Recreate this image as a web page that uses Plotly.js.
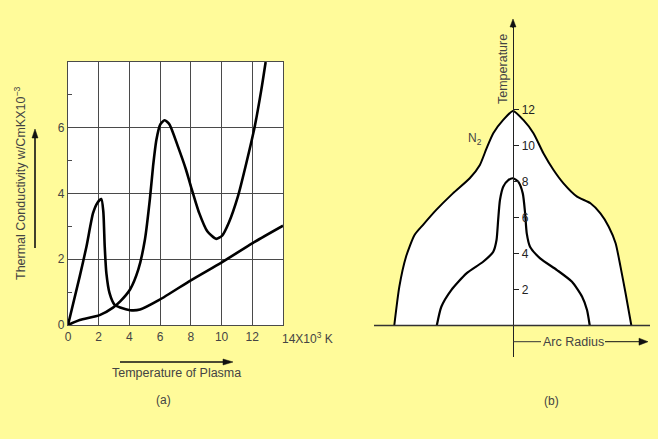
<!DOCTYPE html>
<html><head><meta charset="utf-8">
<script src="https://cdn.plot.ly/plotly-3.0.1.min.js"></script>
<style>body{margin:0;background:#FFFB9A}</style>
</head><body><div id="c" style="width:658px;height:439px"></div>
<script>
// (a) thermal conductivity vs temperature of plasma (x 10^3 K)
const peakX = [0,0.76,1.2,1.63,1.92,2.17,2.3,2.39,2.5,2.71,3.04,3.4,4.04,4.69,5.97,8.0,9.99,12.05,14.0];
const peakY = [0,1.47,2.38,3.4,3.72,3.83,3.45,2.4,1.57,0.96,0.61,0.53,0.45,0.47,0.77,1.36,1.9,2.5,3.02];
const waveX = [0,0.76,2.06,2.93,3.4,4.04,4.58,5.01,5.33,5.54,5.76,6.01,6.29,6.61,7.15,7.68,8.0,8.54,9.07,9.65,10.04,10.47,11.07,11.61,12.16,12.59,12.87];
const waveY = [0,0.15,0.3,0.53,0.72,1.08,1.69,2.6,3.82,4.83,5.64,6.1,6.23,6.1,5.44,4.73,4.22,3.41,2.85,2.62,2.72,3.11,3.92,4.92,6.04,7.16,8.0];
const xTicks = [0,2,4,6,8,10,12];
const yTicks = [0,2,4,6];
// (b) temperature profiles across arc radius
const n2X = [-6.56,-6.28,-5.91,-5.44,-4.98,-4.24,-3.32,-2.39,-1.83,-1.46,-1.09,-0.54,0,0.57,1.13,1.68,2.24,2.79,3.54,4.28,4.83,5.29,5.67,5.94,6.22,6.54];
const n2Y = [0,2.16,3.82,5.03,5.58,6.42,7.34,8.18,8.92,9.84,10.68,11.42,11.92,11.42,10.68,9.57,8.64,7.9,7.16,6.79,6.23,5.49,4.57,3.27,1.79,0];
const innerX = [-4.21,-3.96,-3.41,-2.57,-1.65,-1.09,-0.91,-0.82,-0.72,-0.54,-0.26,0,0.29,0.54,0.67,0.76,0.94,1.5,2.43,3.26,3.82,4.09,4.24];
const innerY = [0,1.04,1.97,2.9,3.54,4.1,4.75,5.86,6.97,7.71,8.08,8.18,7.99,7.34,6.23,5.12,4.38,3.73,3.08,2.43,1.6,0.86,0];
const tempTicks = [2,4,6,8,10,12];

const W=658,H=439;
const px=v=>v/W, py=v=>1-v/H;
const txt='#444', grid='#4a4a4a', F='Liberation Sans, Arial, sans-serif';

const traces=[
 {x:peakX,y:peakY,type:'scatter',mode:'lines',line:{color:'#000',width:2.6,shape:'spline',smoothing:0.6},xaxis:'x',yaxis:'y',hoverinfo:'skip'},
 {x:waveX,y:waveY,type:'scatter',mode:'lines',line:{color:'#000',width:2.6,shape:'spline',smoothing:0.6},xaxis:'x',yaxis:'y',hoverinfo:'skip'},
 {x:n2X,y:n2Y,type:'scatter',mode:'lines',fill:'toself',fillcolor:'#fff',line:{color:'#000',width:2,shape:'spline',smoothing:0.6},xaxis:'x2',yaxis:'y2',hoverinfo:'skip'},
 {x:innerX,y:innerY,type:'scatter',mode:'lines',line:{color:'#000',width:2.2,shape:'spline',smoothing:0.6},xaxis:'x2',yaxis:'y2',hoverinfo:'skip'}
];

function label(text,x,y,opts){
  return Object.assign({text:text,x:px(x),y:py(y),xref:'paper',yref:'paper',xanchor:'center',yanchor:'middle',showarrow:false,font:{size:12,color:txt}},opts||{});
}
// arrow from (x0,y0) to tip (x1,y1), pixel coordinates -> paper shapes
function arrowShapes(x0,y0,x1,y1,hl,hw,lw){
  const dx=x1-x0, dy=y1-y0, L=Math.hypot(dx,dy), ux=dx/L, uy=dy/L;
  const bx=x1-ux*hl, by=y1-uy*hl, nx=-uy, ny=ux;
  const p=(a,b)=>px(a).toFixed(5)+','+py(b).toFixed(5);
  return [
    {type:'line',xref:'paper',yref:'paper',x0:px(x0),y0:py(y0),x1:px(bx),y1:py(by),line:{color:'#111',width:lw}},
    {type:'path',xref:'paper',yref:'paper',path:'M'+p(x1,y1)+' L'+p(bx+nx*hw/2,by+ny*hw/2)+' L'+p(bx-nx*hw/2,by-ny*hw/2)+' Z',fillcolor:'#111',line:{color:'#111',width:0.5}}
  ];
}

const shapes=[
  {type:'rect',xref:'x',yref:'y',x0:0,x1:14,y0:0,y1:8,fillcolor:'#fff',line:{width:0},layer:'below'},
  {type:'line',xref:'x2',yref:'y2',x0:-7.68,x1:7.57,y0:0,y1:0,line:{color:'#333',width:1.3}},
  {type:'line',xref:'paper',yref:'paper',x0:px(513),x1:px(541),y0:py(341.7),y1:py(341.7),line:{color:'#333',width:1}}
].concat(
  arrowShapes(35,248,35,129,9,6,1.6),
  arrowShapes(120,362,233,362,10,6,1.6),
  arrowShapes(513,28,513,19,8,6,1.2),
  arrowShapes(605,341.7,648,341.7,9,7,1)
);

const layout={
 width:W,height:H,margin:{l:0,r:0,t:0,b:0},
 paper_bgcolor:'#FFFB9A',plot_bgcolor:'rgba(0,0,0,0)',showlegend:false,
 font:{family:F,color:txt,size:12},
 xaxis:{domain:[px(68),px(283)],range:[0,14],anchor:'y',tickvals:xTicks,showgrid:true,gridcolor:grid,gridwidth:1.2,
   showline:true,mirror:true,linecolor:grid,linewidth:1.2,zeroline:false,ticks:'',tickfont:{size:12,color:txt},fixedrange:true},
 yaxis:{domain:[py(325),py(62)],range:[0,8],anchor:'x',tickvals:yTicks,showgrid:true,gridcolor:grid,gridwidth:1.2,
   showline:true,mirror:true,linecolor:grid,linewidth:1.2,zeroline:false,ticks:'',tickfont:{size:12,color:txt},
   minor:{tickvals:[1,3,5,7],ticks:'inside',ticklen:4,tickcolor:grid,showgrid:false},fixedrange:true},
 xaxis2:{domain:[px(374),px(650)],range:[-7.68,7.57],anchor:'y2',visible:false,fixedrange:true},
 yaxis2:{domain:[py(357),py(22)],range:[-1.75,16.86],anchor:'free',position:px(513),side:'right',
   showline:true,linecolor:'#222',linewidth:1.3,ticks:'outside',ticklen:5,tickcolor:'#222',tickvals:tempTicks,
   showgrid:false,zeroline:false,tickfont:{size:12,color:'#222'},fixedrange:true},
 shapes:shapes,
 annotations:[
  label('Thermal Conductivity w/CmKX10<sup>−3</sup>',20,183,{textangle:-90,font:{size:12.5,color:txt}}),
  label('14X10<sup>3</sup> K',280,338,{xanchor:'left'}),
  label('Temperature of Plasma',176,373,{font:{size:12.5,color:txt}}),
  label('(a)',163,400),
  label('Temperature',503,69,{textangle:-90,font:{size:12.5,color:txt}}),
  label('Arc Radius',573,341.7,{font:{size:12.5,color:txt}}),
  label('N<sub>2</sub>',475,138.5),
  label('(b)',551,401)
 ]
};
Plotly.newPlot('c',traces,layout,{staticPlot:true,displayModeBar:false});
</script></body></html>
